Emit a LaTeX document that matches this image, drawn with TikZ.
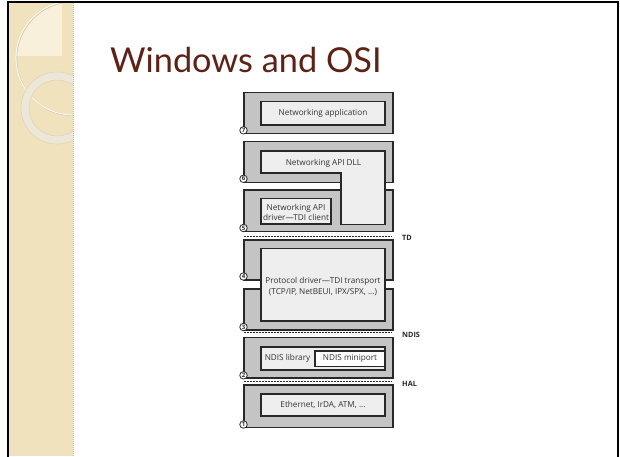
\documentclass[tikz,border=0pt]{standalone}
\usepackage{fontspec}
\setmainfont{Open Sans}
\newfontfamily\titlefont{Lato}
\definecolor{layergray}{RGB}{196,196,196}
\definecolor{innergray}{RGB}{238,238,238}
\definecolor{boxedge}{RGB}{40,40,40}
\definecolor{textgray}{RGB}{50,50,50}
\definecolor{titlebrown}{RGB}{94,33,20}
\definecolor{beige}{RGB}{240,226,188}
\definecolor{beigelight}{RGB}{248,240,218}
\definecolor{beigedark}{RGB}{196,180,140}
\definecolor{ringcol}{RGB}{237,231,215}
\begin{document}
\begin{tikzpicture}[x=1pt,y=-1pt,
  layerbox/.style={fill=layergray, draw=boxedge, line width=1.1pt},
  innerbox/.style={fill=innergray, draw=boxedge, line width=1.6pt},
  lbl/.style={font=\fontsize{8.2}{10.6}\selectfont, text=textgray, align=center, inner sep=0pt},
  numc/.style={circle, draw=boxedge, fill=white, line width=0.8pt, inner sep=0pt, minimum size=7.5pt, font=\bfseries\fontsize{6}{6}\selectfont, text=boxedge},
  sepline/.style={draw=boxedge, line width=1.3pt, dash pattern=on 2pt off 1pt},
  iface/.style={font=\bfseries\fontsize{7.3}{8}\selectfont, text=boxedge, anchor=west, inner sep=0pt}]
\useasboundingbox (0,0) rectangle (620,456);
\fill[white] (0,0) rectangle (620,456);
% left decorative panel
\fill[beige] (9,3) rectangle (73,456);
\begin{scope}
  \clip (9,3) rectangle (73,456);
  \begin{scope}
    \clip (73,58) circle (57);
    \fill[beigelight] (9,0) rectangle (62,56);
  \end{scope}
  \draw[beigedark!70, line width=1.2pt] (73.6,58.6) circle (57);
  \draw[white, line width=0.8pt] (73,58) circle (57);
  \fill[ringcol, even odd rule] (57,108) circle (36) (57,108) circle (28);
  \draw[beigedark!60, line width=0.5pt] (57,108) circle (36) (57,108) circle (28);
\end{scope}
\draw[beigedark, line width=0.8pt, dash pattern=on 1pt off 1pt] (73,3) -- (73,456);
% frame
\draw[black, line width=2pt] (8,460) -- (8,2) -- (618,2) -- (618,460);
% title
\node[anchor=base west, inner sep=0pt, font=\titlefont\fontsize{34.3}{34.3}\selectfont, text=titlebrown] (title) at (110,72.3) {Windows and OSI};
% layers
\draw[layerbox] (244,92.7) rectangle (393,133.7);
\draw[layerbox] (244,141.3) rectangle (393,182.5);
\draw[layerbox] (244,190) rectangle (393,231.7);
\draw[layerbox] (244,240) rectangle (393,280);
\draw[layerbox] (244,289) rectangle (393,330);
\draw[layerbox] (244,337.3) rectangle (393,378);
\draw[layerbox] (244,385) rectangle (393,427.3);
% inner boxes
\draw[innerbox] (261,101.3) rectangle (385,124.7);
\draw[innerbox] (261,150.7) -- (385,150.7) -- (385,224.3) -- (341,224.3) -- (341,173) -- (261,173) -- cycle;
\draw[innerbox] (261,198.3) rectangle (331,224);
\draw[innerbox] (261,248.3) rectangle (385,320.7);
\draw[innerbox] (261,346.7) rectangle (385,370);
\draw[boxedge, fill=white, line width=1.6pt] (315,351) rectangle (385,366.5);
\draw[innerbox] (261,394) rectangle (385,416);
% separators
\draw[sepline] (244,236.5) -- (392,236.5);
\draw[sepline] (244,332.8) -- (392,332.8);
\draw[sepline] (244,381.5) -- (392,381.5);
\node[iface] (td) at (402,238.3) {TD};
\node[iface] (ndis) at (402,334.8) {NDIS};
\node[iface] (hal) at (402,384.3) {HAL};
% texts
\node[lbl] (app) at (323,113) {Networking application};
\node[lbl] (dll) at (323.5,163.5) {Networking API DLL};
\node[lbl] (drv) at (296,212.3) {Networking API\\driver—TDI client};
\node[lbl] (proto) at (323,286.5) {Protocol driver—TDI transport\\(TCP/IP, NetBEUI, IPX/SPX, ...)};
\node[lbl] (lib) at (287.5,358.5) {NDIS library};
\node[lbl] (mini) at (350,358.5) {NDIS miniport};
\node[lbl] (eth) at (323,405) {Ethernet, IrDA, ATM, ...};
% numbers
\node[numc] (n7) at (243.5,130.3) {7};
\node[numc] (n6) at (243.5,178.8) {6};
\node[numc] (n5) at (243.5,228) {5};
\node[numc] (n4) at (243.5,276.5) {4};
\node[numc] (n3) at (243.5,327) {3};
\node[numc] (n2) at (243.5,375.3) {2};
\node[numc] (n1) at (243.5,424.5) {1};
\end{tikzpicture}
\end{document}
